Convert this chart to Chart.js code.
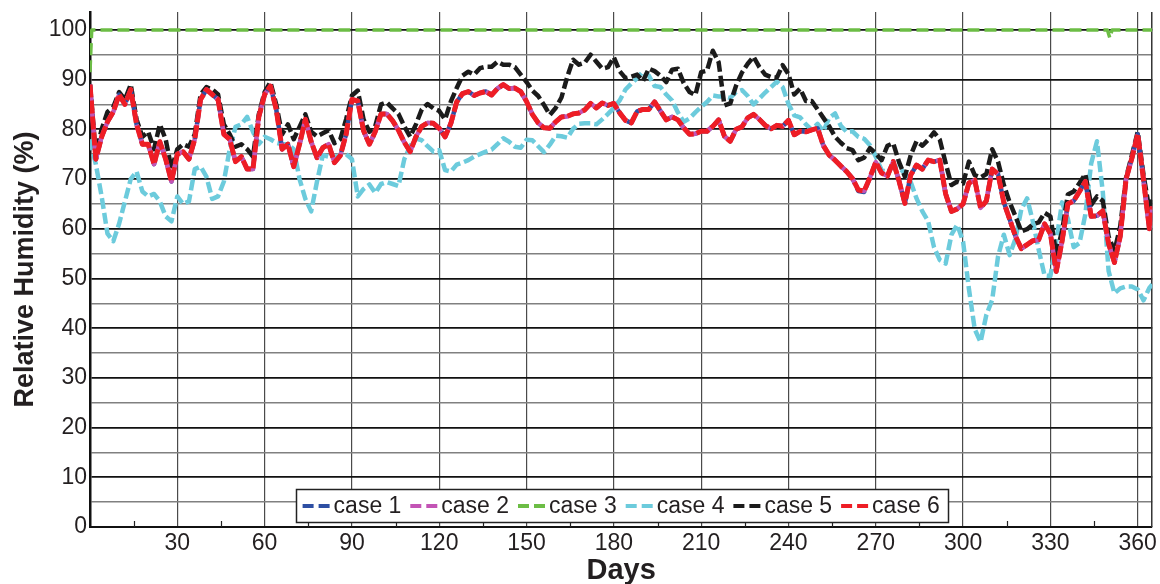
<!DOCTYPE html>
<html><head><meta charset="utf-8">
<script src="https://cdn.jsdelivr.net/npm/chart.js@4.4.0/dist/chart.umd.min.js"></script>
<style>html,body{margin:0;padding:0;background:#fff;}canvas{display:block}</style>
</head><body>
<canvas id="c" width="1160" height="584"></canvas>
<script>
const days = [
0,2,4,6,8,10,12,14,16,18,20,22,24,26,28,30,32,34,36,38,
40,42,44,46,48,50,52,54,56,58,60,62,64,66,68,70,72,74,76,78,
80,82,84,86,88,90,92,94,96,98,100,102,104,106,108,110,112,114,116,118,
120,122,124,126,128,130,132,134,136,138,140,142,144,146,148,150,152,154,156,158,
160,162,164,166,168,170,172,174,176,178,180,182,184,186,188,190,192,194,196,198,
200,202,204,206,208,210,212,214,216,218,220,222,224,226,228,230,232,234,236,238,
240,242,244,246,248,250,252,254,256,258,260,262,264,266,268,270,272,274,276,278,
280,282,284,286,288,290,292,294,296,298,300,302,304,306,308,310,312,314,316,318,
320,322,324,326,328,330,332,334,336,338,340,342,344,346,348,350,352,354,356,358,
360,362,364,365];

const case1 = [
89,74,78.5,81.5,83.5,87,85,88,81,77,77,73,77.5,74,69.5,75,75.5,74,78,86,
88,87,86,79,78,73.5,74.5,72,72,82.5,87,88.7,84,76,77,72.5,77,82,77.5,74.3,
76.3,77,73.3,74.7,79,86,85.7,79.7,77,79.5,83.1,83.1,81.7,79.8,77.4,75.5,78.5,80.6,81.3,81.2,
80.2,78.5,81.2,85.5,87.2,87.6,86.8,87.3,87.6,86.9,88.2,89,88.2,88.3,87.6,85.6,83,81.3,80.3,80.2,
81.5,82.5,82.6,83.1,83.3,83.9,85.2,84.3,85.3,84.8,85.2,83.3,81.8,81.3,83.6,84,84,85.5,83.7,81.9,
82.5,81.9,80.3,79,79.1,79.6,79.6,80.6,81.9,78.6,77.6,80,80.5,82.3,83,82,80.8,80.1,80.8,80.6,
81.8,78.9,79.6,79.5,79.9,80.2,76.7,74.8,73.8,72.6,71.5,70.1,67.6,67.4,70.3,73.4,71.2,70.6,73.5,69.6,
65.1,70.8,72.8,72,73.8,73.5,73.8,67,63.5,64,65,69.2,69.8,64.2,65.6,72,71,65.3,61.9,58.5,
56,56.8,57.6,57.8,61,59,51.4,57.5,65,65.6,67.5,69.5,62.5,62.6,63.6,57,53.2,58.5,70,74.2,
79,69.8,60,64.5];

const case2 = [
89,74,78.5,81.5,83.5,87,85,88,81,77,77,73,77.5,74,69.5,75,75.5,74,78,86,
88,87,86,79,78,73.5,74.5,72,72,82.5,87,88.7,84,76,77,72.5,77,82,77.5,74.3,
76.3,77,73.3,74.7,79,86,85.7,79.7,77,79.5,83.1,83.1,81.7,79.8,77.4,75.5,78.5,80.6,81.3,81.2,
80.2,78.5,81.2,85.5,87.2,87.6,86.8,87.3,87.6,86.9,88.2,89,88.2,88.3,87.6,85.6,83,81.3,80.3,80.2,
81.5,82.5,82.6,83.1,83.3,83.9,85.2,84.3,85.3,84.8,85.2,83.3,81.8,81.3,83.6,84,84,85.5,83.7,81.9,
82.5,81.9,80.3,79,79.1,79.6,79.6,80.6,81.9,78.6,77.6,80,80.5,82.3,83,82,80.8,80.1,80.8,80.6,
81.8,78.9,79.6,79.5,79.9,80.2,76.7,74.8,73.8,72.6,71.5,70.1,67.8,67.6,70.3,73.4,71.2,70.6,73.5,69.6,
65.1,70.8,72.8,72,73.8,73.5,73.8,67,63.5,64,65,69.2,69.8,64.2,65.6,72,71,65.3,61.9,58.5,
56,56.8,57.6,57.8,61,59,51.4,57.5,65,65.6,67.5,69.5,62.5,62.6,63.6,57,53.2,58.5,70,74.2,
79,69.8,60,64.5];

const case3Days = [0,0.3,0.6,349.6,350.4,351.2,365];
const case3 = [91.5,96,100,100,98.4,100,100];

const case4 = [
78,73,66.5,59,57.5,61,65.5,70,71.5,67.5,66.5,67,65.5,62.5,61.5,66.5,65,65.5,72,72.5,
70.5,66,66.5,69.5,76,80.5,81,82.5,79.5,77,78.5,78,77.3,77,77,76,70,66,63.5,69.5,
74.8,74.5,74.3,74.9,75,74,66.5,68,68.9,67.2,69,69.4,69,68.6,74,76.6,78.2,77.8,76.6,75.5,
75.8,71.8,71.5,72.9,73.3,73.8,74.5,75,75.5,75.9,77,78.2,77.5,76.5,76.3,77.9,77.8,76.6,75.4,76.9,
78.7,78.6,78.3,80.1,81.1,81.2,81.2,81,82,83.1,84.3,85.8,88,89.2,90.3,91.6,90.8,88.7,88.5,87,
85.8,83.4,81.5,82.2,83.4,84.5,85.5,86.8,86.6,86.6,86.3,87.5,87.9,86.7,85,86.2,87.4,88.5,89.6,88.5,
85.1,82.8,82.4,81,79.9,81.1,79.6,82.3,83.2,80.7,79.5,79.6,78.5,78.1,76.8,74.5,71.8,71.5,72.5,72.2,
71.2,69.4,66.1,63.5,61.5,56.3,53.7,53,58.8,60.8,57.4,47.9,39.8,37.2,42.7,45.7,54.4,58.8,54.7,58,
63.9,66.1,61.4,55.7,50.6,50.5,57.4,65.3,62,56.3,57.1,62.9,73.1,77.6,67.4,51.5,47,48,48.4,48.4,
47.8,45.6,48.1,48.8];

const case5 = [
89,75,80,83.5,84.5,87.5,86,89,82,78.5,79.5,76,81,78,72,76,77,76.5,79,87,
88.5,88,87,81,79,76.5,77,76,74.5,83,87.5,89.5,85,79,81,78,80.5,83,79.5,78.6,
79.2,79.8,77.2,78,82,86.8,87.8,82,79.5,80.6,85,85.4,84.2,83.1,80.6,78.5,81,84,85.1,84.2,
83.7,82,85.6,88.3,90.8,91.6,91,92.3,92.6,92.6,93.6,93,93,92.5,91,89.5,87.8,86.7,84.9,82.9,
84.3,86.4,90.6,94,93,93.4,95,93.6,92.2,92.5,94.5,91.7,90.3,90.6,91,89.7,92.2,91.7,90.8,89.5,
92,92.2,89.3,87.5,86.9,91.5,91.8,95.8,93.5,84.8,85.2,88.8,91.4,93.2,94.6,92.5,91,90.5,90.4,92.9,
91.1,87,88.2,85.7,85.7,84,82.3,80.6,78.5,77.3,76.2,75.8,73.8,74.3,76.2,75.1,73.8,76.7,77.2,73.4,
70.5,74.8,77.6,76.7,77.9,79.4,77.9,73.2,68.8,69.5,69.1,73.5,70.8,70.3,71,76,73.5,68.8,65.3,62.5,
59.5,59.9,60.9,61.3,63.2,62.5,54.8,59.5,66.9,67.5,69.2,71,64.8,66.5,65.6,58.4,55.5,60.5,70.3,74.8,
79.5,70.8,63.8,65.8];

const case6 = [
89,74,78.5,81.5,83.5,87,85,88,81,77,77,73,77.5,74,69.5,75,75.5,74,78,86,
88,87,86,79,78,73.5,74.5,72,72,82.5,87,88.7,84,76,77,72.5,77,82,77.5,74.3,
76.3,77,73.3,74.7,79,86,85.7,79.7,77,79.5,83.1,83.1,81.7,79.8,77.4,75.5,78.5,80.6,81.3,81.2,
80.2,78.5,81.2,85.5,87.2,87.6,86.8,87.3,87.6,86.9,88.2,89,88.2,88.3,87.6,85.6,83,81.3,80.3,80.2,
81.5,82.5,82.6,83.1,83.3,83.9,85.2,84.3,85.3,84.8,85.2,83.3,81.8,81.3,83.6,84,84,85.5,83.7,81.9,
82.5,81.9,80.3,79,79.1,79.6,79.6,80.6,81.9,78.6,77.6,80,80.5,82.3,83,82,80.8,80.1,80.8,80.6,
81.8,78.9,79.6,79.5,79.9,80.2,76.7,74.8,73.8,72.6,71.5,70.1,67.8,67.6,70.3,73.4,71.2,70.6,73.5,69.6,
65.1,70.8,72.8,72,73.8,73.5,73.8,67,63.5,64,65,69.2,69.8,64.2,65.6,72,71,65.3,61.9,58.5,
56,56.8,57.6,57.8,61,59,51.4,57.5,65,65.6,67.5,69.5,62.5,62.6,63.6,57,53.2,58.5,70,74.2,
79,69.8,60,64.5];

const seriesNames = ['case 1','case 2','case 3','case 4','case 5','case 6'];
const xTickValues = [0,30,60,90,120,150,180,210,240,270,300,330,360];
const xMinorTicks = [15,45,75,105,135,165,195,225,255,285,315,345];
const yTickValues = [0,5,10,15,20,25,30,35,40,45,50,55,60,65,70,75,80,85,90,95,100];

const FONT = '"Liberation Sans", Arial, sans-serif';
const colors = ['#2e4fa3','#c354b5','#6cbd45','#6ccbdc','#1b1b1b','#ee1d25'];

function pts(xs, ys){ return xs.map((d,i)=>({x:d, y:ys[i]})); }

const ds = (i, xs, ys, order, extra) => Object.assign({
  label: seriesNames[i], data: pts(xs, ys), borderColor: colors[i], backgroundColor: colors[i],
  borderWidth: 4.5, borderDash: [11,4], borderCapStyle: 'butt', borderJoinStyle: 'round',
  pointRadius: 0, fill: false, order: order
}, extra || {});

const framePlugin = {
  id: 'frame',
  beforeDatasetsDraw(chart){
    const {ctx, chartArea: a, scales: {x}} = chart;
    ctx.save();
    ctx.strokeStyle = '#333'; ctx.lineWidth = 1.5;
    ctx.beginPath(); ctx.moveTo(a.right - 0.5, a.top); ctx.lineTo(a.right - 0.5, a.bottom); ctx.stroke();
    ctx.strokeStyle = '#222'; ctx.lineWidth = 1.2;
    xMinorTicks.forEach(d => {
      const px = Math.round(x.getPixelForValue(d)) + 0.5;
      ctx.beginPath(); ctx.moveTo(px, a.bottom); ctx.lineTo(px, a.bottom - 6); ctx.stroke();
    });
    ctx.restore();
  },
  afterDraw(chart){
    const {ctx} = chart;
    const bx = 296, by = 489, bw = 652, bh = 33;
    ctx.save();
    ctx.fillStyle = '#fff'; ctx.fillRect(bx, by, bw, bh);
    ctx.strokeStyle = '#222'; ctx.lineWidth = 1.5; ctx.strokeRect(bx + 0.5, by + 0.5, bw, bh);
    ctx.font = '23px ' + FONT; ctx.textBaseline = 'middle'; ctx.textAlign = 'left';
    chart.data.datasets.forEach((d, i) => {
      const x0 = 302.6 + i * 107.7, y = by + bh / 2 + 0.5;
      ctx.strokeStyle = d.borderColor; ctx.lineWidth = 4; ctx.setLineDash([]);
      ctx.beginPath(); ctx.moveTo(x0, y); ctx.lineTo(x0 + 11, y); ctx.moveTo(x0 + 16, y); ctx.lineTo(x0 + 27, y); ctx.stroke();
      ctx.fillStyle = '#231f20'; ctx.fillText(d.label, x0 + 31, y + 1);
    });
    ctx.restore();
  }
};

new Chart(document.getElementById('c'), {
  type: 'line',
  data: { datasets: [
    ds(0, days, case1, 2, {borderDashOffset: 7}),
    ds(1, days, case2, 1, {borderDashOffset: 3}),
    ds(2, case3Days, case3, 5, {borderWidth: 3.5, borderDash: [12,5]}),
    ds(3, days, case4, 4),
    ds(4, days, case5, 3),
    ds(5, days, case6, 0, {borderWidth: 5, borderDash: [13,3]})
  ]},
  options: {
    responsive: false, animation: false, devicePixelRatio: 1,
    layout: { padding: { top: 12, right: 7, left: 0, bottom: 0 } },
    plugins: { legend: { display: false }, tooltip: { enabled: false } },
    elements: { point: { radius: 0 }, line: { tension: 0 } },
    scales: {
      x: {
        type: 'linear', min: 0, max: 365,
        afterBuildTicks: s => { s.ticks = xTickValues.map(v => ({value: v})); },
        afterFit: s => { s.height = 57; },
        ticks: { callback: v => v === 0 ? '' : v, font: { size: 23, family: FONT }, color: '#231f20', padding: 3, maxRotation: 0, autoSkip: false },
        grid: { color: '#4a4a4a', lineWidth: c => (c.tick && c.tick.value === 0) ? 0 : 1.2, drawTicks: false },
        border: { color: '#111', width: 2 },
        title: { display: true, text: 'Days', font: { size: 29, weight: 'bold', family: FONT, lineHeight: 0.9 }, color: '#231f20', padding: { top: 0, bottom: 0 } }
      },
      y: {
        min: 0, max: 103.6,
        afterBuildTicks: s => { s.ticks = yTickValues.map(v => ({value: v})); },
        afterFit: s => { s.width = 90; },
        ticks: { callback: v => v % 10 === 0 ? v : '', font: { size: 23, family: FONT, lineHeight: 0.75 }, color: '#231f20', padding: 3, autoSkip: false },
        grid: { color: c => (c.tick && c.tick.value % 10 === 0) ? '#111' : '#808080', lineWidth: c => (c.tick && c.tick.value % 10 === 0) ? 1.8 : 1.4, drawTicks: false },
        border: { color: '#111', width: 2.5 },
        title: { display: true, text: 'Relative Humidity (%)', font: { size: 27, weight: 'bold', family: FONT }, color: '#231f20', padding: { top: 9, bottom: 0 } }
      }
    }
  },
  plugins: [framePlugin]
});
</script>
</body></html>
